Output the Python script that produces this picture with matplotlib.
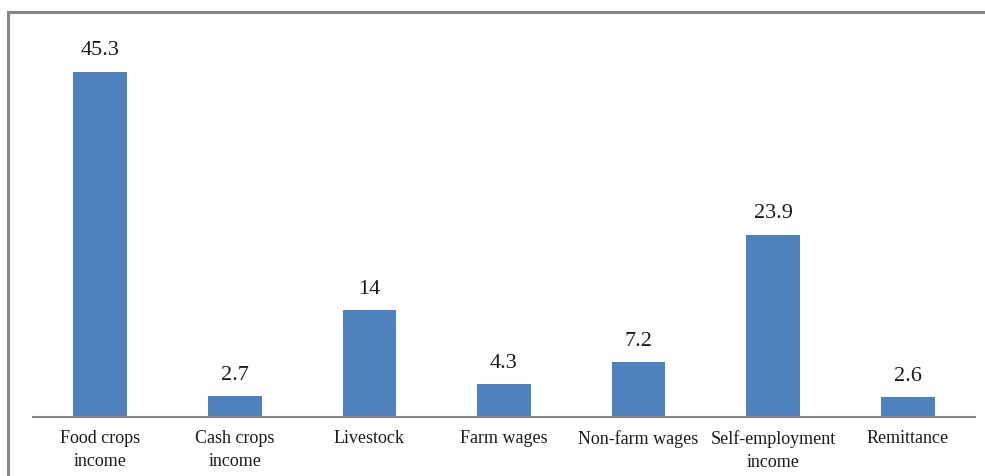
import matplotlib
matplotlib.use("Agg")
import matplotlib.pyplot as plt
from matplotlib.patches import Rectangle

categories = ["Food crops\nincome", "Cash crops\nincome", "Livestock", "Farm wages",
              "Non-farm wages", "Self-employment\nincome", "Remittance"]
shares = [45.3, 2.7, 14, 4.3, 7.2, 23.9, 2.6]
value_labels = ["45.3", "2.7", "14", "4.3", "7.2", "23.9", "2.6"]

plt.rcParams["font.family"] = ["Liberation Serif", "DejaVu Serif"]

W, H = 985, 477
fig = plt.figure(figsize=(W / 100, H / 100), dpi=100)

# outer chart frame (right and bottom edges fall outside the canvas)
fig.patches.append(Rectangle((8 / W, -0.1), 1.2, (H - 13) / H + 0.1,
                             transform=fig.transFigure, fill=False,
                             edgecolor="#868686", linewidth=2.2))

ax = fig.add_axes([33 / W, 59 / H, 942 / W, 381 / H])
x = range(len(categories))
ax.bar(x, shares, width=0.4, color="#4F81BD", zorder=2)
for xi, v, lab in zip(x, shares, value_labels):
    ax.annotate(lab, (xi, v), xytext=(0, 9), textcoords="offset points",
                ha="center", va="bottom", fontsize=16, color="#1a1a1a")

ax.set_xlim(-0.5, len(categories) - 0.5)
ax.set_ylim(0, 50)
ax.set_xticks(list(x))
ax.set_xticklabels(categories, fontsize=13, linespacing=1.45, color="#1a1a1a")
ax.tick_params(axis="x", length=0, pad=9)
ax.set_yticks([])
for side in ("left", "right", "top"):
    ax.spines[side].set_visible(False)
ax.spines["bottom"].set_color("#868686")
ax.spines["bottom"].set_linewidth(1.5)

fig.savefig("out.png", dpi=100)
